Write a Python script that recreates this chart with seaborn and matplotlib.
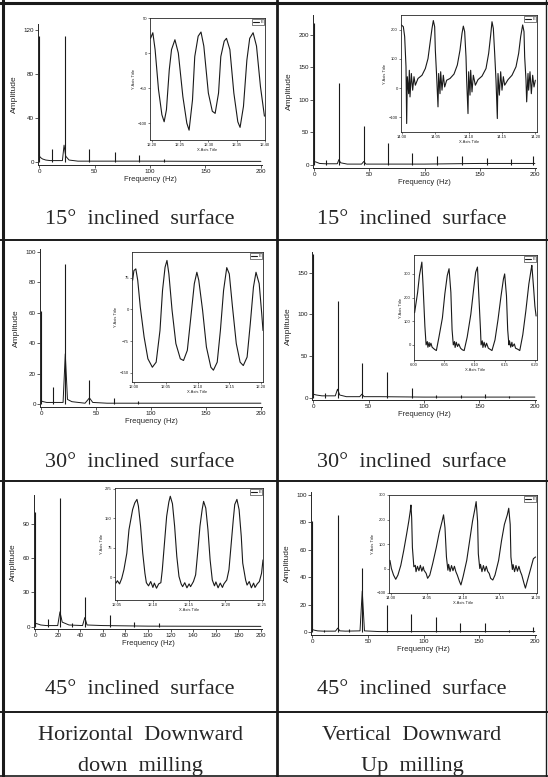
import matplotlib
matplotlib.use('Agg')
import matplotlib.pyplot as plt
from matplotlib.lines import Line2D
import seaborn as sns

sns.set_theme(style='ticks')
plt.rcParams['font.family'] = ['Liberation Sans', 'DejaVu Sans']
plt.rcParams['axes.linewidth'] = 0.7
plt.rcParams['xtick.major.width'] = 0.5
plt.rcParams['ytick.major.width'] = 0.5

W, H = 548, 777

# ---------------- spectra: harmonic peaks (Hz) and amplitudes ----------------
freq_a = [0, 12, 23, 45, 68, 90, 113]
amp_a = [114, 11.5, 114, 11.5, 9, 6, 2]
floor_f_a = [0, 1, 3, 6, 10, 21, 22.5, 24, 27, 35, 60, 100, 150, 200]
floor_a_a = [6, 4, 2.5, 1.5, 1, 1, 15, 5, 1.5, 0.5, 0.5, 0.5, 0.3, 0.3]

freq_b = [0, 11, 22.5, 45, 67, 89, 111.5, 134, 157, 178, 198]
amp_b = [218, 8, 126, 59, 33, 18, 14, 14, 10, 9, 13]
floor_f_b = [0, 2, 5, 10, 21, 22.5, 24, 30, 43, 45, 47, 60, 100, 150, 200]
floor_a_b = [5, 4, 2, 1.5, 1.5, 8, 3, 1, 1, 5, 1, 1, 1, 2, 2]

freq_c = [0, 11, 22, 44, 66, 88]
amp_c = [61, 11, 92, 16, 4, 2]
floor_f_c = [0, 2, 5, 10, 20, 22, 24, 28, 40, 44, 47, 60, 100, 200]
floor_a_c = [2, 1.5, 1, 1, 1, 33, 3, 1.5, 0.5, 4, 1, 0.5, 0.5, 0.5]

freq_d = [0, 11, 22, 44, 66.5, 89, 111, 133, 155, 177]
amp_d = [172, 5, 116, 42, 31, 11, 3, 3, 4, 2]
floor_f_d = [0, 3, 8, 15, 20, 22, 24, 30, 42, 44, 46, 60, 100, 200]
floor_a_d = [4, 3, 2, 2, 2, 10, 3, 1, 1, 4, 1, 1, 0.5, 0.5]

freq_e = [0, 11, 22, 33, 44, 66, 88, 110]
amp_e = [100, 7, 112, 3, 26, 10, 4, 3]
floor_f_e = [0, 2, 5, 10, 20, 22, 24, 30, 42, 44, 46, 60, 100, 200]
floor_a_e = [3, 2.5, 1.5, 1, 1, 13, 4, 1.5, 1, 8, 1.5, 1, 0.5, 0.3]

freq_f = [0, 11, 23, 33, 45, 67, 89, 111, 133, 155, 177, 198]
amp_f = [81, 1.5, 85, 2.4, 47, 20, 13, 11, 7, 7, 2, 4]
floor_f_f = [0, 2, 5, 10, 21, 23, 25, 30, 43, 45, 47, 60, 100, 200]
floor_a_f = [2, 1.5, 1, 0.8, 0.8, 3, 1, 0.8, 1, 30, 1, 0.5, 0.5, 0.5]

# ---------------- inset time signals (s, force) ----------------
t_a = [12.198, 12.202, 12.206, 12.212, 12.218, 12.222, 12.226, 12.231, 12.235, 12.241,
       12.247, 12.255, 12.262, 12.266, 12.272, 12.276, 12.282, 12.287, 12.292, 12.300,
       12.307, 12.312, 12.318, 12.322, 12.328, 12.332, 12.338, 12.345, 12.352, 12.356,
       12.362, 12.368, 12.373, 12.379, 12.385, 12.392, 12.399]
y_a = [21, 29, 5, -52, -88, -98, -81, -24, 5, 19,
       0, -62, -100, -110, -67, -5, 24, 30, 10, -57,
       -83, -86, -57, -5, 17, 21, 5, -57, -98, -106,
       -76, -10, 21, 29, 10, -48, -90]

t_b = [13.999, 14.002, 14.004, 14.006, 14.007, 14.008, 14.010, 14.011, 14.012, 14.014,
       14.016, 14.018, 14.020, 14.024, 14.030, 14.035, 14.039, 14.042, 14.045, 14.047,
       14.049, 14.050, 14.052, 14.054, 14.055, 14.057, 14.058, 14.060, 14.062, 14.064,
       14.067, 14.072, 14.078, 14.083, 14.087, 14.090, 14.092, 14.094, 14.096, 14.097,
       14.099, 14.100, 14.102, 14.103, 14.105, 14.107, 14.110, 14.114, 14.120, 14.126,
       14.130, 14.133, 14.135, 14.137, 14.139, 14.141, 14.143, 14.144, 14.146, 14.148,
       14.150, 14.152, 14.154, 14.159, 14.165, 14.171, 14.175, 14.178, 14.181, 14.183,
       14.184, 14.186, 14.187, 14.189, 14.190, 14.192, 14.194, 14.196, 14.198, 14.200]
y_b = [216, 210, 176, 73, -121, 39, -19, 61, -30, 50,
       -7, 39, 10, 33, 44, 67, 101, 153, 204, 231,
       210, 130, 39, -64, 50, -19, 56, -7, 44, 4,
       27, 33, 48, 79, 130, 187, 212, 193, 107, 27,
       -87, 56, -24, 61, -13, 44, 10, 29, 41, 67,
       119, 181, 227, 204, 119, 27, -104, 50, -24, 56,
       -7, 39, 10, 29, 44, 73, 119, 176, 216, 193,
       107, 27, -47, 50, -7, 56, -19, 44, 4, 27]

t_c = [11.998, 12.000, 12.003, 12.006, 12.010, 12.016, 12.022, 12.029, 12.035, 12.041,
       12.045, 12.049, 12.052, 12.055, 12.060, 12.066, 12.073, 12.078, 12.084, 12.089,
       12.095, 12.099, 12.102, 12.108, 12.114, 12.121, 12.125, 12.131, 12.136, 12.141,
       12.146, 12.150, 12.155, 12.161, 12.167, 12.172, 12.178, 12.183, 12.188, 12.192,
       12.197, 12.201, 12.203]
y_c = [69, 92, 96, 69, 6, -65, -117, -137, -125, -50,
       45, 100, 116, 84, -2, -81, -117, -121, -97, -26,
       61, 88, 69, -2, -89, -137, -144, -125, -50, 45,
       99, 84, 6, -81, -125, -133, -113, -34, 53, 88,
       61, -10, -50]

t_d = [6.001, 6.006, 6.009, 6.013, 6.015, 6.018, 6.020, 6.022, 6.023, 6.025,
       6.026, 6.028, 6.030, 6.034, 6.037, 6.041, 6.047, 6.051, 6.055, 6.058,
       6.061, 6.063, 6.065, 6.067, 6.068, 6.070, 6.072, 6.074, 6.077, 6.080,
       6.083, 6.088, 6.094, 6.099, 6.102, 6.105, 6.107, 6.110, 6.111, 6.113,
       6.114, 6.116, 6.118, 6.120, 6.123, 6.126, 6.129, 6.134, 6.139, 6.144,
       6.148, 6.150, 6.153, 6.155, 6.157, 6.158, 6.160, 6.162, 6.163, 6.166,
       6.168, 6.172, 6.175, 6.180, 6.185, 6.190, 6.194, 6.195, 6.198, 6.200,
       6.202]
y_d = [136, 222, 293, 350, 250, 79, 0, 14, -10, 10,
       -7, 7, -10, -19, -24, 29, 114, 215, 293, 322,
       222, 64, 0, 14, -11, 11, -7, 4, -14, -21,
       -24, 33, 129, 243, 307, 329, 222, 64, 0, 17,
       -11, 11, -10, 7, -14, -19, -24, 21, 107, 207,
       279, 300, 207, 64, 0, 17, -10, 11, -7, 4,
       -14, -19, -24, 43, 143, 257, 322, 336, 236, 164,
       122]

t_e = [12.049, 12.051, 12.054, 12.057, 12.060, 12.064, 12.067, 12.072, 12.075, 12.078,
       12.080, 12.083, 12.086, 12.089, 12.091, 12.094, 12.097, 12.100, 12.102, 12.105,
       12.108, 12.111, 12.113, 12.116, 12.119, 12.122, 12.124, 12.127, 12.130, 12.133,
       12.136, 12.139, 12.141, 12.144, 12.147, 12.150, 12.152, 12.156, 12.159, 12.162,
       12.165, 12.168, 12.170, 12.173, 12.176, 12.179, 12.182, 12.185, 12.187, 12.190,
       12.193, 12.196, 12.198, 12.202, 12.205, 12.208, 12.211, 12.213, 12.216, 12.219,
       12.222, 12.224, 12.228, 12.230, 12.233, 12.236, 12.239, 12.241, 12.244, 12.247,
       12.250, 12.252]
y_e = [-15, -9, -17, -3, 19, 61, 121, 172, 189, 198,
       181, 130, 61, 10, -14, -22, -11, -26, -15, -28,
       -17, -14, 19, 87, 155, 191, 206, 187, 130, 53,
       2, -17, -24, -14, -27, -17, -24, -11, 6, 66,
       130, 172, 193, 176, 121, 44, -7, -22, -12, -27,
       -15, -26, -17, -7, 19, 83, 147, 185, 198, 172,
       104, 36, -7, -20, -11, -27, -15, -26, -17, -11,
       10, 44]

t_f = [13.999, 14.001, 14.004, 14.007, 14.010, 14.014, 14.018, 14.022, 14.025, 14.027,
       14.028, 14.029, 14.030, 14.032, 14.034, 14.035, 14.037, 14.039, 14.041, 14.043,
       14.045, 14.046, 14.049, 14.051, 14.054, 14.058, 14.063, 14.067, 14.071, 14.073,
       14.075, 14.077, 14.079, 14.080, 14.082, 14.084, 14.086, 14.088, 14.090, 14.092,
       14.095, 14.097, 14.100, 14.105, 14.109, 14.113, 14.116, 14.118, 14.120, 14.121,
       14.123, 14.124, 14.126, 14.128, 14.130, 14.132, 14.134, 14.136, 14.138, 14.141,
       14.144, 14.149, 14.153, 14.157, 14.161, 14.163, 14.165, 14.166, 14.168, 14.169,
       14.171, 14.173, 14.175, 14.177, 14.179, 14.181, 14.184, 14.186, 14.189, 14.194,
       14.197, 14.200]
y_f = [33, 0, -27, -44, -27, 13, 73, 140, 193, 233,
       259, 206, 86, 7, 13, -13, 9, -9, 13, -11,
       7, -7, -20, -40, -27, 20, 86, 146, 193, 219,
       166, 47, -7, 17, -12, 12, -9, 9, -13, -27,
       -53, -67, -33, 33, 113, 193, 239, 273, 193, 60,
       0, 17, -13, 12, -11, 9, -12, -20, -40, -47,
       -27, 33, 113, 180, 219, 246, 180, 47, -4, 16,
       -13, 12, -11, 9, -12, -27, -60, -80, -47, 7,
       40, 47]

# ---------------- tick values ----------------
yt_a = [0, 40, 80, 120]
yt_b = [0, 50, 100, 150, 200]
yt_c = [0, 20, 40, 60, 80, 100]
yt_d = [0, 50, 100, 150]
yt_e = [0, 30, 60, 90]
yt_f = [0, 20, 40, 60, 80, 100]
xt_50 = [0, 50, 100, 150, 200]
xt_20 = [0, 20, 40, 60, 80, 100, 120, 140, 160, 180, 200]

in_xt_a = [12.20, 12.25, 12.30, 12.35, 12.40]
in_yt_a = [-100, -50, 0, 50]
in_xt_b = [14.00, 14.05, 14.10, 14.15, 14.20]
in_yt_b = [-100, 0, 100, 200]
in_xt_c = [12.00, 12.05, 12.10, 12.15, 12.20]
in_yt_c = [-150, -75, 0, 75]
in_xt_d = [6.00, 6.05, 6.10, 6.15, 6.20]
in_yt_d = [0, 100, 200, 300]
in_xt_e = [12.05, 12.10, 12.15, 12.20, 12.25]
in_yt_e = [0, 75, 150, 225]
in_xt_f = [14.00, 14.05, 14.10, 14.15, 14.20]
in_yt_f = [-100, 0, 100, 200, 300]

captions = ['15°  inclined  surface', '30°  inclined  surface', '45°  inclined  surface']
bottom_left = ['Horizontal  Downward', 'down  milling']
bottom_right = ['Vertical  Downward', 'Up  milling']

fig = plt.figure(figsize=(W / 100, H / 100), dpi=100)
fig.patch.set_facecolor('white')


def px_box(x0, y0, x1, y1):
    return [x0 / W, 1 - y1 / H, (x1 - x0) / W, (y1 - y0) / H]


def spectrum(box, freqs, amps, ff, fa, ylim, yticks, xticks):
    ax = fig.add_axes(px_box(*box))
    ax.set_facecolor('none')
    ax.vlines(freqs, 0, amps, color='k', lw=0.8)
    sns.lineplot(x=ff, y=fa, ax=ax, color='k', lw=0.7, estimator=None, sort=False)
    ax.set_xlim(-1, 201)
    ax.set_ylim(*ylim)
    ax.set_xticks(xticks)
    ax.set_yticks(yticks)
    ax.tick_params(labelsize=4.5, length=2, width=0.5, pad=1, colors='k')
    ax.set_xlabel('Frequency (Hz)', fontsize=5.5, labelpad=1)
    ax.set_ylabel('Amplitude', fontsize=6, labelpad=4)
    sns.despine(ax=ax)
    return ax


def inset(box, t, y, xlim, ylim, xticks, yticks, label='E'):
    ax = fig.add_axes(px_box(*box))
    ax.set_facecolor('white')
    sns.lineplot(x=t, y=y, ax=ax, color='k', lw=0.8, estimator=None, sort=False, label=label)
    ax.set_xlim(*xlim)
    ax.set_ylim(*ylim)
    ax.set_xticks(xticks)
    ax.set_xticklabels(['%.2f' % v for v in xticks])
    ax.set_yticks(yticks)
    ax.tick_params(labelsize=3, length=1.2, width=0.4, pad=1, colors='k')
    ax.set_xlabel('X Axis Title', fontsize=3, labelpad=1)
    ax.set_ylabel('Y Axis Title', fontsize=3, labelpad=1)
    for s in ax.spines.values():
        s.set_linewidth(0.6)
    leg = ax.legend(loc='upper right', fontsize=3, frameon=True, fancybox=False,
                    handlelength=1.5, handletextpad=0.3, borderpad=0.2,
                    borderaxespad=0.3, framealpha=1, edgecolor='k')
    leg.get_frame().set_linewidth(0.4)
    return ax


# row 1
spectrum((38, 24, 262, 165), freq_a, amp_a, floor_f_a, floor_a_a, (-3, 125), yt_a, xt_50)
inset((150, 18, 265, 140), t_a, y_a, (12.197, 12.400), (-124, 50), in_xt_a, in_yt_a)
spectrum((313, 15, 536, 168), freq_b, amp_b, floor_f_b, floor_a_b, (-5, 230), yt_b, xt_50)
inset((401, 15, 537, 132), t_b, y_b, (13.9985, 14.2025), (-150, 250), in_xt_b, in_yt_b)

# row 2
spectrum((40, 249, 262, 407), freq_c, amp_c, floor_f_c, floor_a_c, (-2, 102), yt_c, xt_50)
inset((132, 252, 263, 382), t_c, y_c, (11.997, 12.203), (-172, 136), in_xt_c, in_yt_c)
spectrum((312, 252, 536, 400), freq_d, amp_d, floor_f_d, floor_a_d, (-3, 175), yt_d, xt_50)
inset((414, 255, 537, 360), t_d, y_d, (6.000, 6.2035), (-64, 380), in_xt_d, in_yt_d)

# row 3
spectrum((34, 495, 262, 629), freq_e, amp_e, floor_f_e, floor_a_e, (-2, 115), yt_e, xt_20)
inset((115, 488, 263, 600), t_e, y_e, (12.0477, 12.252), (-58, 227), in_xt_e, in_yt_e)
spectrum((311, 492, 536, 635), freq_f, amp_f, floor_f_f, floor_a_f, (-2, 102), yt_f, xt_50)
inset((389, 495, 537, 593), t_f, y_f, (13.9977, 14.202), (-100, 300), in_xt_f, in_yt_f)

# captions
serif = ['Liberation Serif', 'DejaVu Serif']
for txt, yc in zip(captions, [220, 463, 690]):
    fig.text(140 / W, 1 - yc / H, txt, ha='center', va='center', family=serif, fontsize=16)
    fig.text(412 / W, 1 - yc / H, txt, ha='center', va='center', family=serif, fontsize=16)
for txt_l, txt_r, yc in zip(bottom_left, bottom_right, [735, 767]):
    fig.text(140 / W, 1 - yc / H, txt_l, ha='center', va='center', family=serif, fontsize=16)
    fig.text(412 / W, 1 - yc / H, txt_r, ha='center', va='center', family=serif, fontsize=16)


# table rules
def rule(x0, y0, x1, y1, lw):
    fig.add_artist(Line2D([x0 / W, x1 / W], [1 - y0 / H, 1 - y1 / H], color='k', lw=lw))


rule(3, 0, 3, H, 2.2)
rule(546, 0, 546, H, 1.0)
rule(277, 0, 277, H, 2.0)
rule(0, 3, W, 3, 2.2)
for yl in [240, 481, 712]:
    rule(0, yl, W, yl, 1.4)
rule(0, 776, W, 776, 1.2)

fig.savefig('out.png', dpi=100, facecolor='white')
